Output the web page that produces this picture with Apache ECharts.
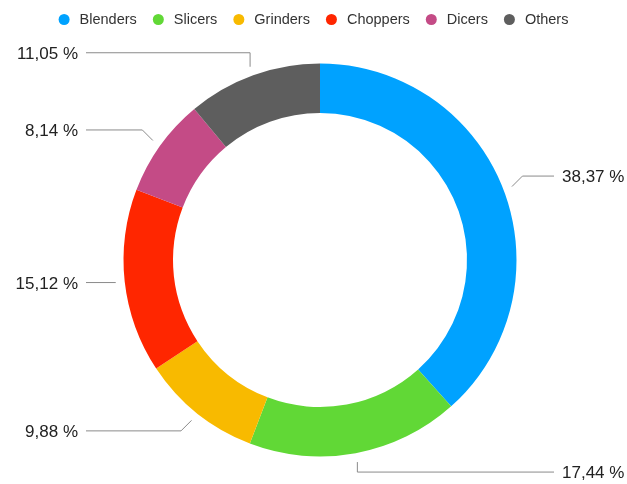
<!DOCTYPE html>
<html><head><meta charset="utf-8">
<script src="https://cdn.jsdelivr.net/npm/echarts@6/dist/echarts.min.js"></script>
<style>html,body{margin:0;padding:0;background:#fff}#c{width:627px;height:484px}</style>
</head><body><div id="c"></div>
<script>
const categories = ['Blenders', 'Slicers', 'Grinders', 'Choppers', 'Dicers', 'Others'];
const shares = [38.37, 17.44, 9.88, 15.12, 8.14, 11.05];
const colors = ['#00A2FF', '#61D836', '#F8BA00', '#FF2600', '#C44B86', '#5E5E5E'];

const CX = 320, CY = 260, R_IN = 147, R_OUT = 196.5;
const GAP = 9, LINE_REACH = 234, TEXT_GAP = 8;

function fmt(v) { return v.toFixed(2).replace('.', ',') + ' %'; }

const chart = echarts.init(document.getElementById('c'), null, { renderer: 'canvas' });
chart.setOption({
  animation: false,
  color: colors,
  legend: {
    top: 7, left: 'center', icon: 'circle', itemWidth: 11, itemHeight: 11, itemGap: 16,
    textStyle: { fontFamily: 'Liberation Sans', fontSize: 14.5, color: '#333', padding: [0, 0, 0, 5] },
    data: categories
  },
  series: [{
    type: 'pie', center: [CX, CY], radius: [R_IN, R_OUT], startAngle: 90, clockwise: true,
    avoidLabelOverlap: false,
    emphasis: { disabled: true },
    label: { show: true, formatter: p => fmt(p.value), fontFamily: 'Liberation Sans', fontSize: 17, color: '#222' },
    labelLine: { show: true, length: 20, length2: 20, lineStyle: { color: '#8a8a8a', width: 1 } },
    labelLayout: function (params) {
      const pts = params.labelLinePoints;
      if (!pts) return {};
      const p0 = pts[0];
      let dx = p0[0] - CX, dy = p0[1] - CY;
      const r = Math.sqrt(dx * dx + dy * dy);
      dx /= r; dy /= r;
      const sx = CX + dx * (r + GAP), sy = CY + dy * (r + GAP);
      const side = dx < 0 ? -1 : 1;
      const vs = dy < 0 ? -1 : 1;
      let mx, my;
      if (Math.abs(dx) > 0.95) { mx = sx; my = sy; }
      else if (Math.abs(dx) < 0.4) { mx = sx; my = sy + vs * (vs < 0 ? 14 : 10); }
      else { const d = 10.5; my = sy + vs * d; mx = sx + side * d; }
      const ex = CX + side * LINE_REACH;
      return {
        x: ex + side * TEXT_GAP, y: my + 1.5,
        align: side < 0 ? 'right' : 'left', verticalAlign: 'middle',
        labelLinePoints: [[sx, sy], [mx, my], [ex, my]]
      };
    },
    data: categories.map((n, i) => ({ name: n, value: shares[i] }))
  }]
});
</script></body></html>
